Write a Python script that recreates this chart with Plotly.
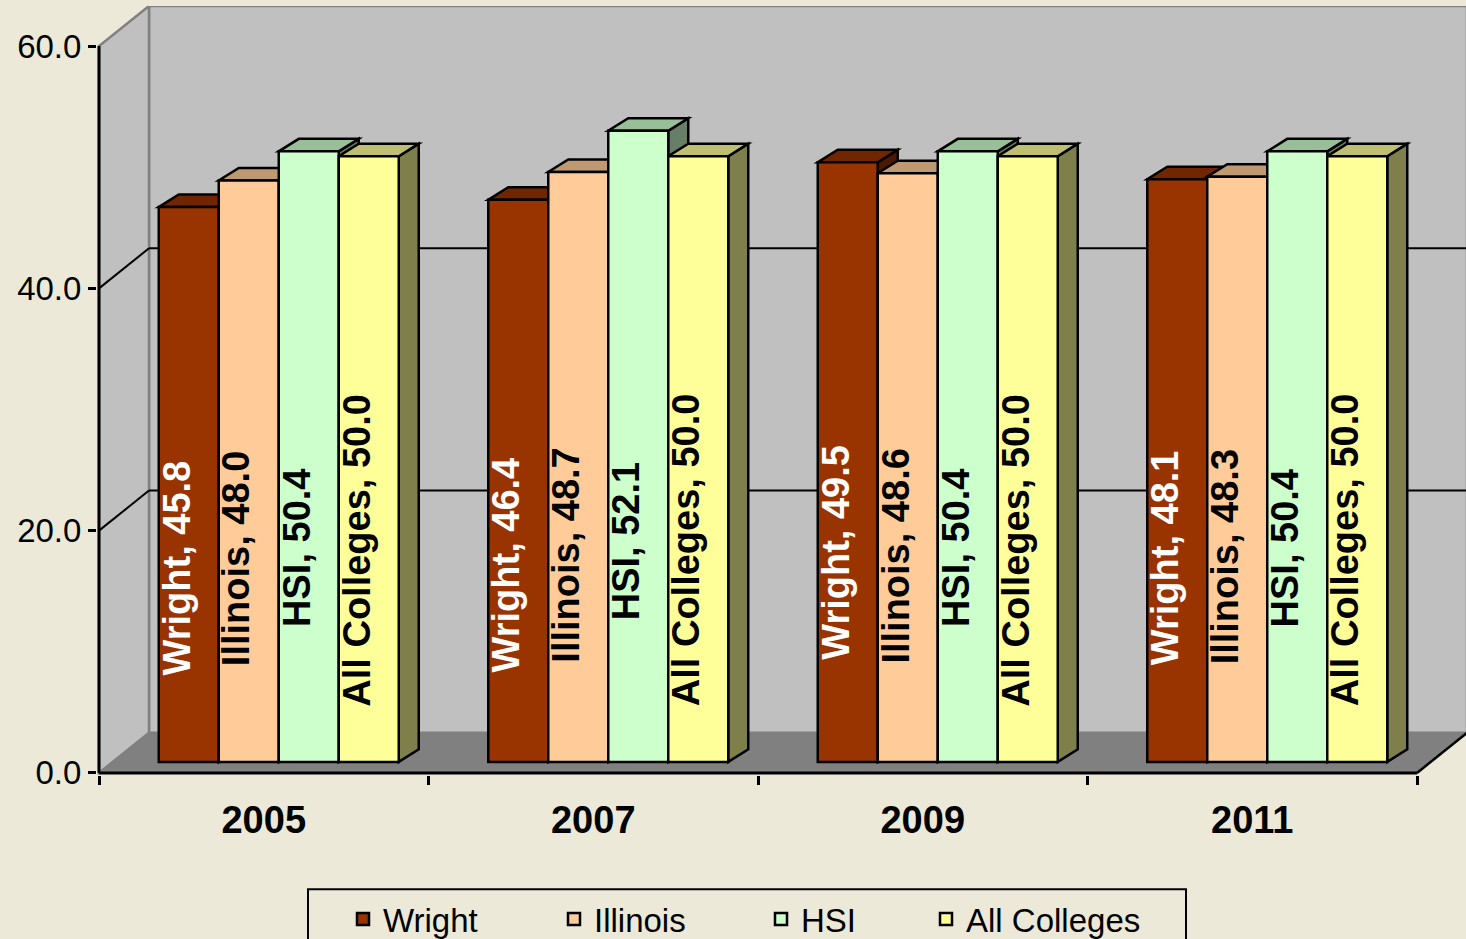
import plotly.graph_objects as go

# ---------------- data ----------------
years = ["2005", "2007", "2009", "2011"]
series_names = ["Wright", "Illinois", "HSI", "All Colleges"]
wright = [45.8, 46.4, 49.5, 48.1]
illinois = [48.0, 48.7, 48.6, 48.3]
hsi = [50.4, 52.1, 50.4, 50.4]
all_colleges = [50.0, 50.0, 50.0, 50.0]
y_tick_values = [0, 20, 40, 60]

series_values = [wright, illinois, hsi, all_colleges]
front_colors = ["#993300", "#FFCC99", "#CCFFCC", "#FFFF99"]
label_colors = ["#FFFFFF", "#000000", "#000000", "#000000"]

# ---------------- styling / geometry ----------------
FONT = "Liberation Sans, Arial, sans-serif"
PAPER = "#ECE9D8"
WALL = "#C0C0C0"
FLOOR = "#808080"
EDGE = "#808080"

FIG_W = 1466
FIG_H = 947                 # page height (the capture is scaled to 939)
VS = FIG_H / 939.0          # vertical compensation factor

PX_CAT = 329.5              # pixels per category unit
PX_VAL = 12.083 * VS        # pixels per value unit
M_L, M_R = 97, 0
M_T = round(6 * VS)
PLOT_BOTTOM_PX = 773 * VS
M_B = FIG_H - PLOT_BOTTOM_PX
PLOT_W = FIG_W - M_L - M_R
PLOT_H = PLOT_BOTTOM_PX - M_T

DX = 50 / PX_CAT            # wall depth (x)
DY = 40 * VS / PX_VAL       # wall depth (y)
BW = 60 / PX_CAT            # bar width
SHIFT = 15 / PX_CAT         # bar front-face shift into depth (x)
BASE = 11 * VS / PX_VAL     # bar front-face shift into depth (y)
BDX = 20 / PX_CAT           # bar depth (x)
BDY = 12.5 * VS / PX_VAL    # bar depth (y)
LABEL_DX = -12 / PX_CAT
LABEL_FRAC = 0.35

# legend layout (pixels)
LEGEND_BOX = (308, 887 * VS, 1186, 975)
LEGEND_ITEM_X = [343, 554, 761, 926]
LEGEND_ITEM_TOP = 889 * VS

y_max = max(y_tick_values)
x_lo = -0.5 - 2 / PX_CAT
x_hi = x_lo + PLOT_W / PX_CAT
y_hi = y_max + DY
y_lo = y_hi - PLOT_H / PX_VAL
n_cat = len(years)
x_left, x_right = -0.5, n_cat - 0.5


def px_to_paper_x(px):
    return (px - M_L) / PLOT_W


def px_to_paper_y(py):
    return (PLOT_BOTTOM_PX - py) / PLOT_H


def shade(hex_color, k):
    h = hex_color.lstrip("#")
    r, g, b = (int(h[i:i + 2], 16) for i in (0, 2, 4))
    return "rgb({},{},{})".format(int(r * k), int(g * k), int(b * k))


def poly(pts, fill, line_color, lw):
    path = "M " + " L ".join("{:.5f},{:.5f}".format(x, y) for x, y in pts) + " Z"
    return dict(type="path", path=path, xref="x", yref="y", fillcolor=fill,
                line=dict(color=line_color, width=lw), layer="below")


def seg(p, q, color, lw):
    return dict(type="line", x0=p[0], y0=p[1], x1=q[0], y1=q[1], xref="x", yref="y",
                line=dict(color=color, width=lw), layer="below")


shapes = []
# back wall
shapes.append(poly([(x_left + DX, DY), (x_right + DX, DY), (x_right + DX, y_max + DY),
                    (x_left + DX, y_max + DY)], WALL, EDGE, 2.5))
# left side wall
shapes.append(poly([(x_left, 0), (x_left, y_max), (x_left + DX, y_max + DY), (x_left + DX, DY)],
                   WALL, EDGE, 2.5))
# floor
shapes.append(poly([(x_left, 0), (x_right, 0), (x_right + DX, DY), (x_left + DX, DY)],
                   FLOOR, EDGE, 1))
# gridlines on side and back walls
for v in y_tick_values:
    if v == 0 or v == y_max:
        continue
    shapes.append(seg((x_left, v), (x_left + DX, v + DY), "black", 2))
    shapes.append(seg((x_left + DX, v + DY), (x_right + DX, v + DY), "black", 2))
# axis edges
shapes.append(seg((x_right, 0), (x_right + DX, DY), "black", 2.5))
shapes.append(seg((x_left, 0), (x_right, 0), "black", 3))
shapes.append(seg((x_left, 0), (x_left, y_max), "black", 3))

# bar tops and sides
for i in range(n_cat):
    for j, vals in enumerate(series_values):
        x0 = i - 2 * BW + SHIFT + j * BW
        x1 = x0 + BW
        top = BASE + vals[i]
        col = front_colors[j]
        shapes.append(poly([(x1, BASE), (x1, top), (x1 + BDX, top + BDY), (x1 + BDX, BASE + BDY)],
                           shade(col, 0.5), "black", 2.5))
        shapes.append(poly([(x0, top), (x1, top), (x1 + BDX, top + BDY), (x0 + BDX, top + BDY)],
                           shade(col, 0.75), "black", 2.5))

# legend frame
shapes.append(dict(type="rect", xref="paper", yref="paper",
                   x0=px_to_paper_x(LEGEND_BOX[0]), x1=px_to_paper_x(LEGEND_BOX[2]),
                   y0=px_to_paper_y(LEGEND_BOX[3]), y1=px_to_paper_y(LEGEND_BOX[1]),
                   line=dict(color="black", width=2), fillcolor="rgba(0,0,0,0)", layer="above"))

fig = go.Figure()
annotations = []
legend_ids = ["legend", "legend2", "legend3", "legend4"]
for j, (name, vals) in enumerate(zip(series_names, series_values)):
    fig.add_trace(go.Bar(
        x=list(range(n_cat)), y=vals, base=[BASE] * n_cat,
        width=BW, offset=-2 * BW + SHIFT + j * BW,
        name=name, legend=legend_ids[j],
        marker=dict(color=front_colors[j], line=dict(color="black", width=2.5)),
        hoverinfo="name+y",
    ))
    for i, v in enumerate(vals):
        annotations.append(dict(
            x=i - 2 * BW + SHIFT + (j + 0.5) * BW + LABEL_DX,
            y=BASE + LABEL_FRAC * v,
            xref="x", yref="y",
            text="{}, {:.1f}".format(name, v),
            textangle=-90, showarrow=False,
            xanchor="center", yanchor="middle",
            font=dict(family=FONT, size=38, color=label_colors[j], weight="bold"),
        ))

legend_layouts = {}
for j, lid in enumerate(legend_ids):
    legend_layouts[lid] = dict(
        orientation="h",
        x=px_to_paper_x(LEGEND_ITEM_X[j]), xanchor="left",
        y=px_to_paper_y(LEGEND_ITEM_TOP), yanchor="top",
        bgcolor="rgba(0,0,0,0)", borderwidth=0,
        font=dict(family=FONT, size=33, color="black"),
    )

fig.update_layout(
    width=FIG_W, height=FIG_H,
    margin=dict(l=M_L, r=M_R, t=M_T, b=M_B, pad=0),
    paper_bgcolor=PAPER, plot_bgcolor=PAPER,
    barmode="overlay",
    font=dict(family=FONT, color="black"),
    shapes=shapes,
    annotations=annotations,
    showlegend=True,
    xaxis=dict(
        range=[x_lo, x_hi], showgrid=False, zeroline=False, showline=False,
        tickmode="array", tickvals=list(range(n_cat)), ticktext=years,
        ticks="", ticklabelstandoff=19,
        tickfont=dict(family=FONT, size=38, color="black", weight="bold"),
        minor=dict(tickmode="array", tickvals=[k - 0.5 for k in range(n_cat + 1)],
                   ticks="outside", ticklen=9, tickwidth=2.5, tickcolor="black", showgrid=False),
        fixedrange=True,
    ),
    yaxis=dict(
        range=[y_lo, y_hi], showgrid=False, zeroline=False, showline=False,
        tickmode="array", tickvals=y_tick_values,
        ticktext=["{:.1f}".format(v) for v in y_tick_values],
        ticks="outside", ticklen=8, tickwidth=2.5, tickcolor="black",
        tickfont=dict(family=FONT, size=33, color="black"),
        fixedrange=True,
    ),
    **legend_layouts,
)

fig.write_html(
    "out.html",
    config={"displayModeBar": False},
    post_script=(
        "var gd=document.getElementById('{plot_id}');"
        "gd.style.overflow='hidden';"
        "document.documentElement.style.margin='0';"
        "document.documentElement.style.overflow='hidden';"
        "document.body.style.margin='0';"
        "document.body.style.overflow='hidden';"
    ),
)
